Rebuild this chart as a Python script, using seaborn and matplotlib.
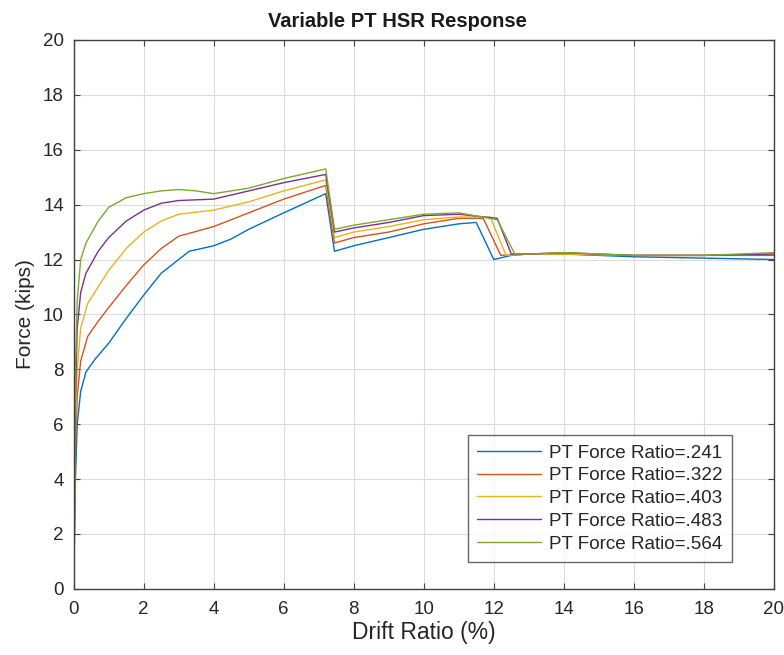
import pandas as pd
import matplotlib.pyplot as plt
import seaborn as sns

labels = ['PT Force Ratio=.241', 'PT Force Ratio=.322', 'PT Force Ratio=.403',
          'PT Force Ratio=.483', 'PT Force Ratio=.564']
colors = ['#0072BD', '#D95319', '#EDB120', '#7E2F8E', '#77AC30']

drift_241 = [0, 0.05, 0.1, 0.2, 0.35, 0.6, 1, 1.5, 2, 2.5, 3, 3.3, 4, 4.5, 5, 6, 7.2, 7.45,
             8, 9, 10, 11, 11.5, 12, 12.5, 13, 14, 16, 18, 20]
force_241 = [0, 4, 6, 7.2, 7.9, 8.35, 8.95, 9.85, 10.7, 11.5, 12.0, 12.3, 12.5, 12.75, 13.1, 13.7, 14.4, 12.3,
             12.5, 12.8, 13.1, 13.3, 13.35, 12.0, 12.15, 12.2, 12.2, 12.1, 12.05, 12.0]

drift_322 = [0, 0.05, 0.1, 0.2, 0.4, 0.7, 1, 1.5, 2, 2.5, 3, 4, 5, 6, 7.2, 7.45,
             8, 9, 10, 11, 11.7, 12.2, 13, 14, 16, 18, 20]
force_322 = [0, 5, 7, 8.3, 9.2, 9.75, 10.25, 11.05, 11.8, 12.4, 12.85, 13.2, 13.7, 14.2, 14.7, 12.6,
             12.8, 13.0, 13.3, 13.5, 13.5, 12.15, 12.2, 12.2, 12.15, 12.15, 12.15]

drift_403 = [0, 0.05, 0.1, 0.2, 0.4, 0.7, 1, 1.5, 2, 2.5, 3, 4, 5, 6, 7.2, 7.45,
             8, 9, 10, 11, 11.9, 12.35, 13, 14, 16, 18, 20]
force_403 = [0, 6, 8, 9.5, 10.4, 11.0, 11.6, 12.4, 13.0, 13.4, 13.65, 13.8, 14.1, 14.5, 14.9, 12.8,
             13.0, 13.2, 13.45, 13.55, 13.55, 12.15, 12.2, 12.2, 12.15, 12.15, 12.2]

drift_483 = [0, 0.05, 0.1, 0.2, 0.35, 0.7, 1, 1.5, 2, 2.5, 3, 4, 5, 6, 7.2, 7.45,
             8, 9, 10, 11, 12.1, 12.5, 13, 14, 16, 18, 20]
force_483 = [0, 7, 9.5, 10.8, 11.5, 12.3, 12.8, 13.4, 13.8, 14.05, 14.15, 14.2, 14.5, 14.8, 15.1, 13.0,
             13.15, 13.35, 13.6, 13.65, 13.5, 12.2, 12.2, 12.25, 12.15, 12.15, 12.2]

drift_564 = [0, 0.05, 0.1, 0.2, 0.35, 0.7, 1, 1.5, 2, 2.5, 3, 3.5, 4, 5, 6, 7.2, 7.45,
             8, 9, 10, 11, 12.1, 12.6, 13, 14, 16, 18, 20]
force_564 = [0, 8, 10.5, 12.0, 12.6, 13.4, 13.9, 14.25, 14.4, 14.5, 14.55, 14.5, 14.4, 14.6, 14.95, 15.3, 13.1,
             13.25, 13.45, 13.65, 13.7, 13.45, 12.2, 12.2, 12.25, 12.15, 12.15, 12.25]

drifts = [drift_241, drift_322, drift_403, drift_483, drift_564]
forces = [force_241, force_322, force_403, force_483, force_564]

sns.set_style('ticks')
plt.rcParams['font.family'] = ['Liberation Sans', 'DejaVu Sans']

fig = plt.figure(figsize=(7.84, 6.55), dpi=100)
ax = fig.add_axes([0.094, 0.101, 0.893, 0.838])

for d, f, lab, c in zip(drifts, forces, labels, colors):
    df = pd.DataFrame({'drift': d, 'force': f})
    sns.lineplot(data=df, x='drift', y='force', sort=False, estimator=None,
                 color=c, linewidth=1.0, label=lab, ax=ax)

ax.set_xlim(0, 20)
ax.set_ylim(0, 20)
ax.set_xticks(range(0, 21, 2))
ax.set_yticks(range(0, 21, 2))
ax.grid(True, color='#dcdcdc', linewidth=0.8)
ax.set_axisbelow(True)
ax.tick_params(direction='in', length=4, labelsize=13.5, color='#404040', labelcolor='#262626',
               top=True, right=True)
ax.tick_params(axis='x', pad=9)
ax.tick_params(axis='y', pad=7)
for s in ax.spines.values():
    s.set_color('#404040')
    s.set_linewidth(1.0)
ax.set_xlabel('Drift Ratio (%)', fontsize=16.5, color='#262626', labelpad=2)
ax.set_ylabel('Force (kips)', fontsize=15, color='#262626', labelpad=6)
ax.set_title('Variable PT HSR Response', fontsize=14.5, fontweight='bold', color='#1a1a1a',
             x=0.462, pad=9)

leg = ax.legend(loc='lower right', bbox_to_anchor=(0.94, 0.049), fontsize=13.6, frameon=True,
                fancybox=False, edgecolor='#404040', handlelength=3.4, borderpad=0.5,
                labelspacing=0.29, handletextpad=0.4, borderaxespad=0)
leg.get_frame().set_linewidth(1.0)

fig.savefig('out.png', dpi=100)
